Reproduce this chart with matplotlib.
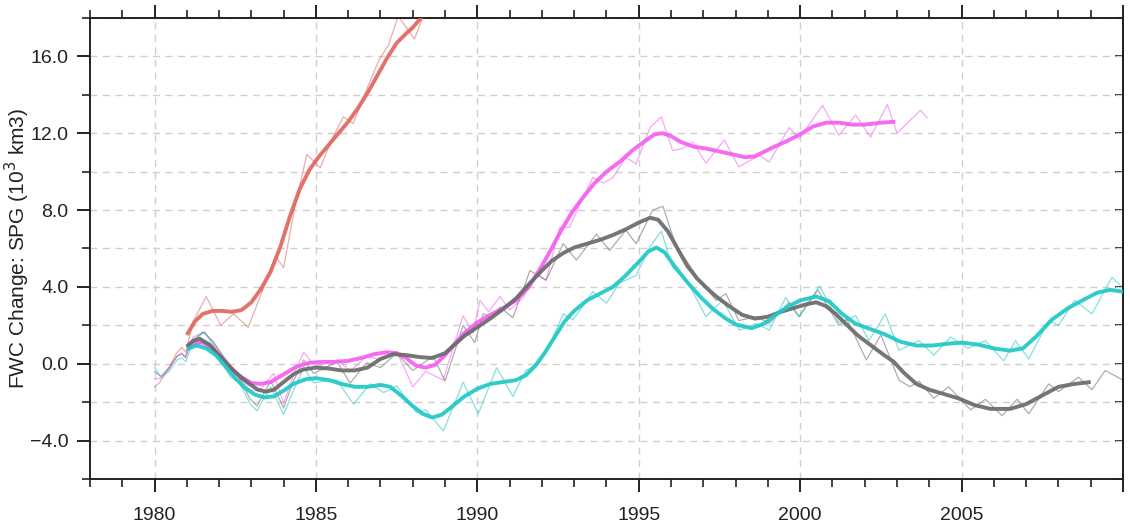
import numpy as np
import matplotlib
matplotlib.use('Agg')
import matplotlib.pyplot as plt
from matplotlib.ticker import MultipleLocator, FixedLocator

plt.rcParams['font.family'] = ['Liberation Sans', 'DejaVu Sans']

# smoothed curves (year, FWC change in 10^3 km3)
red_t = [1981.0, 1981.25, 1981.5, 1981.8, 1982.1, 1982.4, 1982.7, 1983.0, 1983.3, 1983.6,
         1983.9, 1984.2, 1984.5, 1984.8, 1985.1, 1985.4, 1985.7, 1986.0, 1986.3, 1986.6,
         1986.9, 1987.2, 1987.5, 1987.8, 1988.0, 1988.3, 1988.5]
red_v = [1.5, 2.2, 2.6, 2.75, 2.75, 2.7, 2.8, 3.2, 3.9, 4.8,
         6.1, 7.7, 9.1, 10.1, 10.8, 11.4, 12.0, 12.6, 13.3, 14.1,
         15.0, 15.9, 16.7, 17.2, 17.5, 18.1, 18.5]

mag_t = [1981.0, 1981.3, 1981.5, 1981.8, 1982.1, 1982.4, 1982.7, 1983.0, 1983.3, 1983.6,
         1984.0, 1984.4, 1984.8, 1985.2, 1985.6, 1986.0, 1986.4, 1986.8, 1987.2, 1987.5,
         1987.8, 1988.1, 1988.4, 1988.7, 1989.0, 1989.3, 1989.6, 1990.0, 1990.4, 1990.8,
         1991.2, 1991.6, 1992.0, 1992.3, 1992.6, 1992.9, 1993.2, 1993.6, 1994.0, 1994.4,
         1994.8, 1995.2, 1995.5, 1995.75, 1996.0, 1996.3, 1996.7, 1997.1, 1997.5, 1997.9,
         1998.3, 1998.6, 1998.9, 1999.2, 1999.6, 2000.0, 2000.4, 2000.8, 2001.2, 2001.6,
         2002.0, 2002.5, 2002.95]
mag_v = [0.85, 1.1, 1.1, 0.8, 0.25, -0.3, -0.7, -1.0, -1.05, -0.95,
         -0.55, -0.15, 0.05, 0.1, 0.1, 0.15, 0.3, 0.5, 0.6, 0.55,
         0.3, -0.1, -0.2, -0.05, 0.45, 1.05, 1.6, 2.15, 2.55, 2.9,
         3.3, 4.0, 5.1, 6.0, 6.95, 7.8, 8.5, 9.35, 10.0, 10.5,
         11.1, 11.6, 11.95, 12.0, 11.85, 11.55, 11.3, 11.2, 11.05, 10.9,
         10.75, 10.8, 11.05, 11.3, 11.6, 11.95, 12.35, 12.55, 12.55, 12.45,
         12.45, 12.55, 12.6]

gray_t = [1981.0, 1981.2, 1981.4, 1981.7, 1982.0, 1982.3, 1982.6, 1982.9, 1983.2, 1983.45,
          1983.7, 1984.0, 1984.3, 1984.6, 1985.0, 1985.4, 1985.8, 1986.2, 1986.6, 1987.0,
          1987.4, 1987.8, 1988.2, 1988.6, 1989.0, 1989.3, 1989.6, 1990.0, 1990.4, 1990.8,
          1991.2, 1991.6, 1992.0, 1992.3, 1992.65, 1993.0, 1993.4, 1993.8, 1994.2, 1994.6,
          1995.0, 1995.35, 1995.6, 1995.9, 1996.2, 1996.5, 1996.8, 1997.1, 1997.4, 1997.8,
          1998.2, 1998.6, 1999.0, 1999.4, 1999.8, 2000.2, 2000.5, 2000.8, 2001.1, 2001.4,
          2001.8, 2002.2, 2002.6, 2002.9, 2003.2, 2003.6, 2004.0, 2004.4, 2004.9, 2005.4,
          2005.9, 2006.5, 2007.0, 2007.5, 2008.0, 2008.5, 2009.0]
gray_v = [0.9, 1.2, 1.3, 1.0, 0.45, -0.1, -0.6, -1.0, -1.35, -1.45,
          -1.35, -0.95, -0.55, -0.3, -0.2, -0.25, -0.35, -0.35, -0.2, 0.25,
          0.5, 0.45, 0.35, 0.3, 0.55, 1.0, 1.45, 1.9, 2.35, 2.85,
          3.4, 4.15, 4.85, 5.35, 5.75, 6.05, 6.25, 6.45, 6.7, 7.0,
          7.35, 7.6, 7.5, 6.9, 6.0, 5.1, 4.45, 3.95, 3.5, 3.0,
          2.55, 2.35, 2.45, 2.7, 2.9, 3.1, 3.2, 3.0, 2.6, 2.1,
          1.45, 0.95, 0.45, 0.1, -0.45, -1.05, -1.35, -1.55, -1.8, -2.15,
          -2.35, -2.35, -2.1, -1.65, -1.2, -1.05, -0.95]

cyan_t = [1981.0, 1981.3, 1981.6, 1981.9, 1982.2, 1982.5, 1982.8, 1983.1, 1983.4, 1983.7,
          1984.0, 1984.3, 1984.7, 1985.0, 1985.4, 1985.8, 1986.2, 1986.6, 1987.0, 1987.3,
          1987.6, 1988.0, 1988.3, 1988.6, 1988.9, 1989.2, 1989.6, 1990.0, 1990.4, 1990.8,
          1991.2, 1991.5, 1991.8, 1992.1, 1992.4, 1992.7, 1993.0, 1993.4, 1993.8, 1994.2,
          1994.6, 1995.0, 1995.3, 1995.55, 1995.8, 1996.1, 1996.5, 1996.9, 1997.3, 1997.7,
          1998.0, 1998.5, 1998.9, 1999.2, 1999.6, 2000.0, 2000.5, 2000.9, 2001.3, 2001.7,
          2002.1, 2002.6, 2003.1, 2003.6, 2004.1, 2004.6, 2005.0, 2005.5, 2006.0, 2006.5,
          2006.9, 2007.3, 2007.8, 2008.3, 2008.8, 2009.2, 2009.6, 2010.0]
cyan_v = [0.75, 0.95, 0.8, 0.45, -0.15, -0.75, -1.25, -1.6, -1.75, -1.7,
          -1.4, -1.05, -0.8, -0.75, -0.85, -1.05, -1.2, -1.2, -1.1, -1.2,
          -1.6, -2.2, -2.6, -2.8, -2.65, -2.25, -1.7, -1.3, -1.05, -0.95,
          -0.85, -0.6, -0.1, 0.6, 1.4, 2.2, 2.75, 3.3, 3.65, 4.0,
          4.6, 5.3, 5.85, 6.05, 5.8, 5.1, 4.25, 3.5, 2.85, 2.35,
          2.05, 1.85, 2.1, 2.5, 2.95, 3.3, 3.5, 3.25, 2.6, 2.1,
          1.85, 1.55, 1.15, 0.95, 0.95, 1.05, 1.1, 1.0, 0.8, 0.68,
          0.8, 1.4, 2.3, 2.9, 3.35, 3.7, 3.85, 3.75]

# raw (unsmoothed) curves
red_raw_t = [1980.0, 1980.15, 1980.45, 1980.7, 1980.85, 1980.97, 1981.2, 1981.6, 1982.05, 1982.45,
             1982.9, 1983.3, 1983.75, 1984.0, 1984.35, 1984.72, 1985.13, 1985.5, 1985.85, 1986.15,
             1986.55, 1986.95, 1987.25, 1987.55, 1988.05, 1988.35, 1988.6]
red_raw_v = [-1.2, -1.0, -0.2, 0.6, 0.85, 0.6, 2.2, 3.5, 2.0, 2.6,
             1.9, 3.6, 5.6, 5.0, 8.2, 10.9, 10.2, 11.7, 12.85, 12.5,
             14.2, 15.8, 16.6, 18.1, 16.9, 18.2, 19.5]

mag_raw_t = [1980.0, 1980.2, 1980.45, 1980.7, 1980.85, 1980.97, 1981.2, 1981.55, 1981.9, 1982.3,
             1982.97, 1983.3, 1983.69, 1984.0, 1984.3, 1984.62, 1984.97, 1985.3, 1985.7, 1986.06,
             1986.57, 1987.0, 1987.5, 1988.0, 1988.4, 1988.94, 1989.56, 1989.87, 1990.08, 1990.35,
             1990.7, 1991.0, 1991.4, 1991.83, 1992.13, 1992.55, 1992.86, 1993.2, 1993.58, 1993.9,
             1994.2, 1994.6, 1994.92, 1995.35, 1995.7, 1996.05, 1996.35, 1996.67, 1997.08, 1997.65,
             1998.1, 1998.73, 1999.04, 1999.66, 1999.97, 2000.69, 2001.2, 2001.72, 2002.18, 2002.7,
             2003.0, 2003.73, 2003.93]
mag_raw_v = [-0.8, -0.75, -0.3, 0.4, 0.5, 0.3, 1.4, 1.65, 0.9, -0.1,
             -1.4, -1.3, -0.5, -2.05, -0.6, 0.6, -0.15, 0.0, 0.2, -0.4,
             0.4, 0.2, 0.65, -1.2, -0.4, -0.85, 2.5, 1.6, 3.3, 2.7,
             3.5, 2.8, 3.4, 4.7, 4.35, 7.1, 7.1, 8.4, 9.7, 9.4,
             9.7, 10.75, 10.4, 12.3, 12.85, 11.1, 11.2, 11.55, 10.45, 11.65,
             10.25, 10.85, 10.5, 12.3, 11.7, 13.45, 11.9, 12.95, 11.8, 13.5,
             12.0, 13.2, 12.8]

gray_raw_t = [1980.0, 1980.2, 1980.45, 1980.7, 1980.85, 1980.95, 1981.1, 1981.5, 1981.8, 1982.15,
              1982.55, 1982.95, 1983.17, 1983.6, 1984.0, 1984.3, 1984.62, 1984.93, 1985.3, 1985.65,
              1986.06, 1986.57, 1987.0, 1987.5, 1988.0, 1988.63, 1989.0, 1989.56, 1989.92, 1990.18,
              1990.45, 1990.7, 1991.1, 1991.63, 1992.13, 1992.66, 1993.07, 1993.69, 1994.1, 1994.6,
              1994.92, 1995.43, 1995.75, 1996.16, 1996.5, 1996.9, 1997.4, 1997.7, 1998.1, 1998.67,
              1999.04, 1999.66, 1999.97, 2000.55, 2001.2, 2001.45, 2002.05, 2002.5, 2003.06, 2003.4,
              2003.68, 2004.14, 2004.6, 2005.28, 2005.74, 2006.25, 2006.72, 2007.08, 2007.7, 2008.0,
              2008.62, 2009.04, 2009.45, 2010.0]
gray_raw_v = [-0.4, -0.65, -0.2, 0.4, 0.55, 0.35, 1.1, 1.65, 1.2, 0.35,
              -0.5, -1.8, -2.2, -0.9, -2.3, -0.9, 0.2, -0.5, -0.2, 0.1,
              -1.0, 0.05, -0.2, 0.55, -0.35, 0.4, -0.9, 2.0, 1.1, 2.6,
              2.4, 2.95, 2.4, 4.85, 4.35, 6.25, 5.4, 6.75, 5.9, 6.95,
              6.25, 8.0, 8.2, 6.1, 5.3, 4.3, 3.3, 3.65, 2.25, 2.45,
              2.1, 3.2, 2.45, 3.85, 2.0, 2.3, 0.2, 1.5, -0.85, -1.2,
              -0.9, -1.8, -1.2, -2.4, -1.85, -2.7, -1.85, -2.6, -1.05, -1.45,
              -0.7, -1.35, -0.35, -0.85]

cyan_raw_t = [1980.0, 1980.2, 1980.45, 1980.7, 1980.85, 1980.97, 1981.2, 1981.55, 1981.85, 1982.35,
              1982.6, 1982.97, 1983.17, 1983.6, 1984.0, 1984.3, 1984.62, 1984.93, 1985.3, 1985.65,
              1986.16, 1986.68, 1987.1, 1987.5, 1988.12, 1988.4, 1988.95, 1989.56, 1990.03, 1990.6,
              1991.1, 1991.5, 1991.9, 1992.3, 1992.66, 1992.97, 1993.58, 1994.0, 1994.4, 1994.92,
              1995.35, 1995.7, 1996.05, 1996.5, 1997.08, 1997.6, 1998.12, 1998.63, 1999.04, 1999.55,
              1999.95, 2000.6, 2001.2, 2001.72, 2002.13, 2002.64, 2003.06, 2003.68, 2004.14, 2004.66,
              2005.2, 2005.74, 2006.3, 2006.67, 2007.08, 2007.7, 2008.0, 2008.5, 2009.04, 2009.66,
              2010.0]
cyan_raw_v = [-0.2, -0.7, -0.4, 0.2, 0.3, 0.1, 1.2, 1.65, 0.9, -0.7,
              -0.9, -2.1, -2.45, -1.2, -2.65, -1.4, -0.2, -1.0, -0.9, -0.85,
              -2.1, -1.05, -1.5, -1.15, -2.55, -2.4, -3.5, -0.95, -2.6, -0.2,
              -1.7, -0.35, 0.0, 1.2, 2.6, 2.3, 3.75, 3.15, 4.2, 4.6,
              6.1, 6.9, 5.0, 4.3, 2.45, 3.3, 1.75, 2.1, 1.75, 3.45,
              2.45, 4.05, 2.15, 2.5, 1.2, 2.6, 0.7, 1.2, 0.45, 1.4,
              0.8, 1.2, 0.15, 1.2, 0.25, 2.25, 2.0, 3.3, 2.6, 4.5,
              3.95]

c_red = '#e0675f'
c_mag = '#f55ef0'
c_gray = '#6a6a6a'
c_cyan = '#1ec8c6'

fig = plt.figure(figsize=(11.3, 5.32), dpi=100)
ax = fig.add_axes([0.0796, 0.0996, 0.9142, 0.8666])

# thin raw lines
for t, v, c in [(red_raw_t, red_raw_v, c_red), (mag_raw_t, mag_raw_v, c_mag),
                (gray_raw_t, gray_raw_v, c_gray), (cyan_raw_t, cyan_raw_v, c_cyan)]:
    ax.plot(t, v, color=c, lw=0.9, alpha=0.55, zorder=2)

# thick smoothed lines
for t, v, c in [(red_t, red_v, c_red), (mag_t, mag_v, c_mag),
                (gray_t, gray_v, c_gray), (cyan_t, cyan_v, c_cyan)]:
    ax.plot(t, v, color=c, lw=2.8, alpha=0.92, zorder=3, solid_capstyle='butt')

ax.set_xlim(1978, 2010)
ax.set_ylim(-6, 18)

ax.xaxis.set_major_locator(FixedLocator([1980, 1985, 1990, 1995, 2000, 2005, 2010]))
ax.xaxis.set_minor_locator(MultipleLocator(1))
ax.set_xticklabels(['1980', '1985', '1990', '1995', '2000', '2005', ''])
ax.yaxis.set_major_locator(FixedLocator([-4, 0, 4, 8, 12, 16]))
ax.yaxis.set_minor_locator(MultipleLocator(2))
ax.set_yticklabels(['\u22124.0', '0.0', '4.0', '8.0', '12.0', '16.0'])

ax.tick_params(axis='both', which='major', direction='out', length=9.5, width=1.4,
               labelsize=14, colors='#222222')
ax.tick_params(axis='both', which='minor', direction='out', length=5.5, width=1.2,
               colors='#222222')
ax.tick_params(axis='x', which='major', pad=11)
ax.tick_params(axis='y', which='major', pad=6)
ax.tick_params(axis='x', which='both', top=True)
ax.tick_params(axis='y', which='both', right=False)

# right side ticks point inward
sec = ax.secondary_yaxis('right')
sec.yaxis.set_major_locator(MultipleLocator(2))
sec.tick_params(direction='in', length=6, width=1.2, labelright=False)
sec.spines['right'].set_linewidth(1.4)

for s in ax.spines.values():
    s.set_linewidth(1.4)
    s.set_color('#222222')

ax.grid(axis='x', which='major', color='#cfcfcf', linestyle=(0, (5, 4)), lw=1.0)
ax.grid(axis='y', which='both', color='#cfcfcf', linestyle=(0, (5, 4)), lw=1.0)
ax.set_axisbelow(True)

ax.set_ylabel('FWC Change: SPG (10$^3$ km3)', fontsize=15, color='#222222')
ax.yaxis.set_label_coords(-0.056, 0.5)

fig.savefig('out.png', dpi=100)
